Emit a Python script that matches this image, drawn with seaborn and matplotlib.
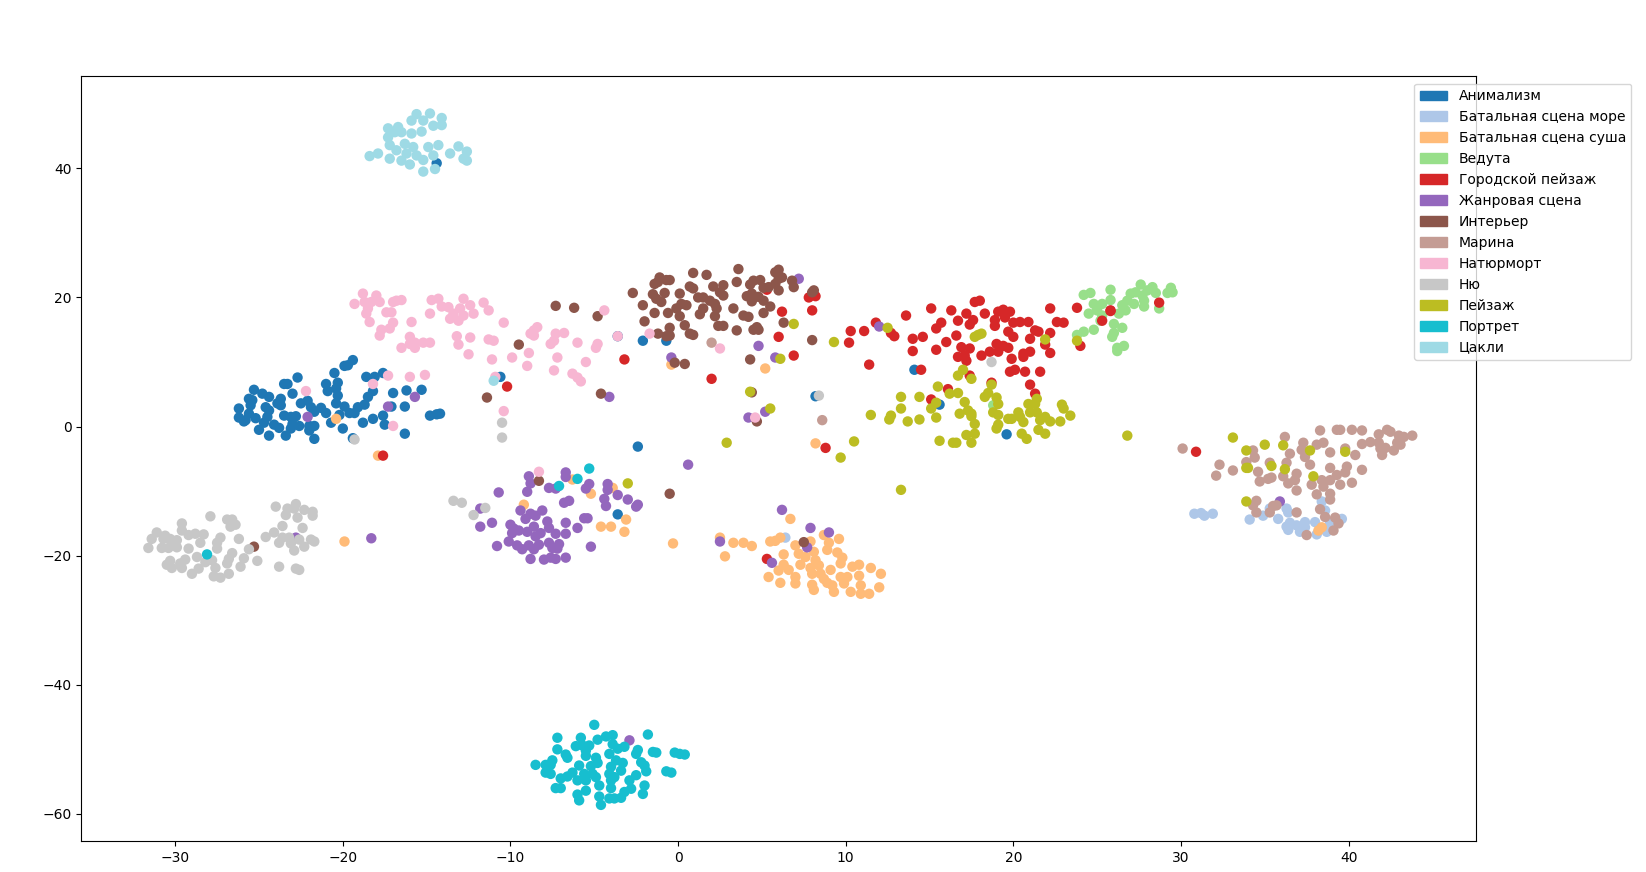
import pandas as pd
import seaborn as sns
import matplotlib.pyplot as plt
from matplotlib.patches import Patch

labels = ['Анимализм', 'Батальная сцена море', 'Батальная сцена суша', 'Ведута', 'Городской пейзаж',
          'Жанровая сцена', 'Интерьер', 'Марина', 'Натюрморт', 'Ню', 'Пейзаж', 'Портрет', 'Цакли']
colors = ['#1f77b4', '#aec7e8', '#ffbb78', '#98df8a', '#d62728', '#9467bd', '#8c564b',
          '#c49c94', '#f7b6d2', '#c7c7c7', '#bcbd22', '#17becf', '#9edae5']

animalism = [(-25.3,5.7),(-24.8,5.1),(-24.4,4.6),(-25.6,4.3),(-25.4,4.1),(-25.5,3.3),(-26.2,2.8),(-23.7,4.3),(-23.9,3.6),
    (-23.7,3.3),(-23.0,5.1),(-22.7,7.6),(-23.5,6.6),(-23.3,6.6),(-22.5,3.6),(-22.1,4.0),(-21.9,3.0),(-21.7,2.3),(-21.3,2.9),
    (-21.0,2.1),(-24.6,3.0),(-24.4,2.5),(-24.5,1.5),(-24.7,0.6),(-25.2,1.3),(-26.2,1.4),(-25.9,0.8),(-25.8,1.0),(-25.6,2.0),
    (-25.0,-0.5),(-24.4,-1.4),(-24.1,0.3),(-23.8,-0.2),(-23.5,1.7),(-23.1,1.5),(-22.8,1.6),(-22.6,0.1),(-23.1,-0.3),(-23.4,-1.4),
    (-23.0,0.4),(-22.0,0.1),(-21.7,0.1),(-22.0,-0.6),(-21.7,-1.9),(-20.5,8.3),(-19.9,9.4),(-19.7,9.5),(-19.4,10.3),(-21.0,6.6),
    (-20.3,6.8),(-20.9,5.5),(-20.4,5.9),(-20.3,4.8),(-20.4,3.6),(-19.9,3.1),(-19.6,2.1),(-19.3,2.1),(-19.1,3.0),(-18.7,3.4),
    (-18.5,4.6),(-18.2,5.5),(-18.6,7.7),(-18.1,7.7),(-17.6,8.3),(-17.0,5.2),(-16.2,5.6),(-15.3,5.7),(-16.3,3.1),(-17.1,3.1),
    (-17.6,1.7),(-17.5,0.3),(-18.2,1.2),(-18.8,0.6),(-20.0,-0.3),(-20.7,0.6),(-20.2,1.8),(-16.3,-1.1),(-14.8,1.7),(-14.4,1.9),
    (-14.2,2.0),(-19.4,-1.8),(-3.6,14.0),(-2.1,13.3),(-0.7,13.3),(-10.6,7.7),(-2.4,-3.1),(-3.6,-13.6),(14.1,8.8),(8.2,4.7),
    (15.6,3.4),(19.6,-1.2),(-14.4,40.8)]

battle_sea = [(30.8,-13.5),(31.2,-13.4),(31.4,-13.8),(31.9,-13.5),(34.1,-14.4),(34.9,-13.8),(35.3,-12.7),(35.8,-14.3),(36.3,-12.7),
    (36.4,-13.3),(36.5,-14.9),(36.3,-15.5),(36.4,-16.0),(36.9,-15.3),(37.1,-16.3),(37.4,-14.8),(37.4,-15.6),(38.0,-14.8),(38.1,-16.7),
    (38.4,-11.6),(38.6,-13.0),(38.7,-16.3),(39.6,-14.3),(38.9,-15.0),(6.4,-17.2)]

battle_land = [(6.7,-14.3),(8.7,-16.8),(9.0,-18.0),(9.6,-17.4),(8.9,-19.1),(9.5,-19.5),(9.8,-20.3),(9.7,-21.2),(5.5,-17.8),(5.8,-17.7),
    (6.1,-17.2),(7.0,-18.4),(7.2,-19.7),(7.9,-17.8),(8.1,-19.4),(6.3,-19.8),(7.6,-20.2),(8.2,-20.7),(8.4,-21.5),(7.3,-21.4),(6.3,-21.4),
    (6.0,-22.3),(6.6,-22.2),(5.4,-23.3),(6.1,-24.2),(7.0,-23.3),(7.0,-24.3),(7.9,-21.9),(8.0,-22.8),(8.0,-24.5),(8.1,-25.3),(8.5,-22.8),
    (9.1,-22.2),(8.7,-23.6),(8.9,-24.2),(9.2,-24.6),(9.3,-25.6),(9.7,-23.3),(9.9,-24.3),(10.1,-23.3),(10.3,-25.6),(10.4,-21.7),(10.8,-21.4),
    (10.8,-23.1),(10.9,-24.6),(10.9,-25.9),(11.4,-25.9),(11.5,-21.9),(12.1,-22.8),(12.0,-24.9),(2.5,-17.2),(3.3,-18.0),(3.9,-18.0),
    (4.4,-18.5),(2.8,-20.1),(-0.3,-18.1),(-3.1,-14.4),(-3.2,-16.3),(-4.0,-15.5),(-4.6,-15.5),(-5.2,-10.4),(-3.9,-9.5),(-6.3,-8.2),
    (-9.2,-12.1),(-17.9,-4.5),(-20.4,1.2),(-19.9,-17.8),(5.2,9.0),(8.2,-2.6),(-0.4,9.6),(38.4,-15.6),(38.2,-16.1)]

veduta = [(24.2,20.4),(24.6,20.7),(25.8,21.2),(24.8,19.0),(25.3,19.0),(25.8,19.6),(24.5,17.5),(25.0,18.0),(25.3,17.2),(26.3,17.5),
    (26.5,18.8),(26.8,19.5),(26.7,18.0),(27.0,20.6),(27.2,19.0),(27.3,20.8),(27.6,22.0),(27.7,20.3),(27.8,18.6),(28.0,21.1),(28.3,21.6),
    (28.5,20.7),(27.8,19.5),(28.7,18.3),(29.2,20.7),(29.4,21.5),(29.5,20.8),(26.0,15.9),(26.5,15.3),(26.0,14.5),(25.9,13.9),(24.8,15.0),
    (24.2,14.7),(23.8,14.2),(25.2,16.4),(26.6,12.5),(26.2,12.2),(26.2,11.7),(18.8,3.3)]

cityscape = [(6.2,17.8),(8.0,18.0),(7.8,20.0),(8.2,20.2),(6.0,13.9),(6.9,11.0),(2.0,7.4),(-3.2,10.4),(11.4,9.6),(10.3,14.8),(11.1,14.8),
    (10.2,13.0),(11.8,16.1),(12.7,14.5),(12.9,14.0),(13.6,17.2),(14.0,13.6),(14.6,13.9),(14.0,11.7),(15.4,11.9),(15.1,18.3),(16.3,18.0),
    (15.7,16.1),(15.4,15.2),(16.0,13.1),(16.6,14.1),(16.7,16.4),(17.2,17.5),(17.6,16.5),(17.4,15.8),(17.7,19.3),(18.0,19.5),(18.3,17.5),
    (19.1,17.8),(19.4,18.1),(19.8,17.8),(19.5,16.9),(18.9,16.5),(18.9,15.6),(20.0,16.1),(20.4,16.2),(20.9,16.2),(22.2,18.3),(23.8,18.4),
    (22.6,16.2),(23.0,16.1),(19.7,14.7),(20.0,13.9),(21.3,14.9),(21.5,14.7),(21.0,13.6),(22.2,14.5),(21.9,12.7),(22.2,11.4),(21.0,11.6),
    (20.6,11.3),(20.6,10.8),(19.9,10.5),(19.7,12.2),(19.4,12.5),(19.0,12.8),(19.1,11.6),(18.6,11.6),(18.1,11.0),(17.4,12.1),(16.9,12.3),
    (16.7,10.8),(17.1,11.0),(17.2,10.2),(14.5,8.8),(17.4,7.9),(16.1,5.8),(15.1,4.2),(18.7,6.8),(19.8,8.5),(20.1,8.8),(20.7,8.5),(21.6,8.5),
    (21.0,6.5),(21.3,5.1),(24.0,12.5),(25.3,16.4),(25.8,17.9),(8.8,-3.3),(5.3,21.2),(-10.2,6.2),(-17.6,-4.5),(28.7,19.2),(25.8,18.0),
    (30.9,-3.9),(5.3,-20.5)]

genre = [(-10.7,-10.2),(-11.8,-12.7),(-11.8,-15.5),(-11.1,-14.9),(-10.8,-18.5),(-10.1,-17.8),(-10.0,-15.2),(-9.8,-15.8),(-9.9,-16.5),
    (-9.5,-16.1),(-9.4,-13.0),(-9.1,-14.3),(-8.8,-13.5),(-8.5,-13.8),(-8.1,-13.0),(-8.6,-15.5),(-9.0,-16.3),(-8.5,-17.0),(-8.2,-16.5),
    (-7.8,-14.7),(-7.7,-15.7),(-7.3,-16.6),(-6.7,-14.9),(-6.7,-16.6),(-6.0,-15.7),(-5.6,-14.2),(-5.4,-14.2),(-5.2,-18.6),(-9.6,-18.4),
    (-9.3,-19.0),(-8.9,-18.4),(-8.6,-19.0),(-8.3,-18.3),(-8.8,-20.5),(-8.0,-20.6),(-7.6,-20.3),(-7.3,-20.5),(-6.7,-20.3),(-7.7,-18.0),
    (-7.5,-18.8),(-7.2,-18.9),(-7.1,-18.2),(-8.9,-7.7),(-8.8,-8.8),(-9.0,-10.1),(-7.7,-9.5),(-7.3,-9.6),(-6.7,-7.1),(-6.7,-7.8),
    (-6.8,-11.8),(-6.5,-11.5),(-5.5,-9.6),(-5.3,-8.9),(-4.2,-8.9),(-4.2,-9.8),(-3.6,-10.6),(-4.4,-11.2),(-4.3,-12.3),(-3.0,-11.3),
    (-2.5,-12.4),(-2.4,-12.1),(0.6,-5.9),(2.5,-17.8),(6.2,-12.9),(7.9,-15.7),(9.0,-16.4),(7.7,-18.7),(5.6,-21.1),(-15.7,4.6),(-17.3,3.1),
    (-22.1,1.5),(-4.1,4.6),(-0.4,10.7),(7.2,22.9),(4.8,12.5),(5.8,10.7),(12.0,15.5),(4.2,1.4),(5.2,2.3),(-18.3,-17.3),(-22.8,-17.2),
    (35.9,-11.6),(-2.9,-48.6)]

interior = [(-2.7,20.7),(-2.1,18.8),(-2.0,16.3),(-1.4,17.6),(-1.5,20.5),(-1.3,19.8),(-1.0,19.3),(-0.8,20.7),(-1.4,22.1),(-1.2,22.4),
    (-1.1,23.1),(-0.7,22.7),(-0.5,22.7),(-0.6,17.6),(-0.1,18.3),(0.1,17.1),(0.2,19.0),(0.1,20.6),(0.5,18.8),(0.7,21.7),(0.9,21.4),(0.9,23.8),
    (1.7,23.5),(1.2,20.0),(1.5,20.0),(1.9,19.5),(2.2,19.0),(2.3,18.3),(1.5,18.3),(1.3,17.4),(2.2,17.1),(2.1,21.7),(2.7,21.9),(2.5,20.8),
    (2.7,20.3),(3.6,24.4),(3.5,22.4),(4.3,22.0),(4.5,22.6),(4.9,22.7),(5.1,21.5),(5.4,21.6),(5.8,23.9),(6.0,24.3),(6.0,22.9),(6.2,23.1),
    (5.8,22.1),(6.0,21.1),(6.8,22.6),(6.9,21.6),(4.1,20.2),(4.4,20.6),(4.4,19.4),(4.8,20.1),(5.1,19.5),(3.3,18.3),(3.9,17.2),(4.2,17.0),
    (5.5,18.6),(5.1,17.6),(4.7,15.4),(4.5,15.0),(4.8,15.0),(2.4,15.6),(2.7,15.6),(3.5,14.9),(0.4,15.7),(0.7,14.4),(0.9,14.2),(-0.5,15.3),
    (-0.5,14.1),(-0.7,14.0),(-1.2,14.4),(6.3,16.1),(8.0,13.4),(8.0,20.8),(8.1,21.1),(4.3,10.4),(-0.2,9.9),(0.4,9.7),(4.4,5.3),(-7.3,18.7),
    (-6.2,18.4),(-4.8,17.1),(-9.5,12.7),(-11.4,4.5),(-4.6,5.1),(-8.3,-8.4),(-0.5,-10.4),(7.5,-17.9),(-25.3,-18.6),(4.7,0.8)]

marina = [(30.1,-3.4),(32.3,-5.9),(33.1,-6.8),(32.1,-7.6),(34.3,-3.7),(34.4,-4.8),(33.9,-5.5),(34.6,-7.0),(34.7,-8.5),(35.2,-8.1),(35.4,-7.9),
    (35.3,-5.6),(36.3,-5.6),(36.5,-4.2),(36.2,-1.6),(37.3,-2.5),(37.2,-3.6),(37.4,-4.7),(37.7,-5.9),(38.1,-2.8),(38.5,-2.5),(38.3,-0.6),
    (39.3,-0.5),(39.5,-0.5),(40.2,-0.5),(40.8,-0.6),(40.8,-2.7),(39.8,-3.4),(40.4,-4.4),(38.9,-4.0),(38.9,-6.4),(39.9,-6.2),(39.8,-7.1),
    (39.3,-7.5),(40.8,-6.7),(40.2,-8.7),(39.5,-9.0),(38.9,-8.3),(38.4,-8.3),(37.8,-9.0),(38.5,-9.3),(36.9,-7.3),(36.8,-8.3),(36.4,-8.8),
    (36.1,-7.7),(36.9,-9.9),(38.1,-10.5),(38.9,-10.4),(38.9,-11.3),(34.5,-11.5),(34.3,-12.2),(34.5,-13.3),(35.5,-12.3),(35.7,-12.2),
    (35.3,-13.3),(36.9,-13.3),(38.3,-12.8),(38.6,-14.0),(39.2,-14.1),(39.4,-15.0),(39.1,-16.1),(37.5,-16.8),(41.3,-2.4),(41.8,-1.2),
    (41.8,-2.5),(41.9,-3.4),(42.2,-3.3),(42.0,-4.4),(42.3,-0.5),(42.5,-0.8),(43.0,-1.4),(43.3,-1.6),(43.8,-1.4),(42.9,-2.5),(43.1,-2.8),
    (42.7,-3.7),(2.0,13.0),(8.6,1.0)]

still_life = [(-18.8,20.6),(-19.3,19.0),(-18.7,19.3),(-18.3,19.3),(-18.0,20.3),(-17.8,19.3),(-18.5,18.3),(-18.6,17.5),(-18.4,16.2),(-17.4,17.7),
    (-17.0,19.3),(-16.8,19.5),(-16.5,19.6),(-17.1,17.7),(-17.0,16.1),(-17.2,15.2),(-17.7,15.0),(-17.8,14.1),(-16.0,13.9),(-16.5,12.2),
    (-16.0,12.8),(-15.7,12.2),(-15.7,13.0),(-15.2,13.0),(-14.8,13.0),(-15.9,16.2),(-14.8,17.5),(-14.7,19.6),(-14.3,19.8),(-14.1,18.6),
    (-13.7,18.5),(-13.4,17.5),(-13.6,16.7),(-13.1,16.4),(-13.0,18.3),(-12.8,19.8),(-12.4,18.8),(-12.8,17.2),(-12.2,17.5),(-11.6,19.2),
    (-11.3,18.0),(-10.4,16.1),(-13.2,14.0),(-13.1,12.7),(-12.4,13.8),(-11.3,13.5),(-11.0,13.3),(-12.5,11.2),(-11.1,10.4),(-9.9,10.7),
    (-8.9,11.4),(-9.0,9.4),(-8.6,14.1),(-8.8,14.4),(-8.6,14.9),(-8.4,15.4),(-7.6,12.8),(-7.4,13.3),(-7.3,14.4),(-6.8,14.5),(-6.0,13.0),
    (-4.8,12.8),(-4.9,12.2),(-4.4,18.0),(-7.2,10.7),(-5.5,10.0),(-7.4,8.7),(-6.3,8.2),(-6.0,7.6),(-5.8,7.0),(-3.6,14.0),(-1.7,14.4),
    (-17.3,7.9),(-16.0,7.7),(-15.1,8.0),(-18.2,6.6),(-22.2,5.5),(-17.0,0.1),(-10.4,2.4),(-10.9,7.7),(2.5,12.1),(4.6,1.4),(-8.3,-7.0)]

nude = [(-31.6,-18.8),(-31.4,-17.4),(-31.1,-16.4),(-30.8,-18.8),(-30.7,-17.4),(-30.6,-16.9),(-30.4,-18.8),(-30.3,-17.4),(-30.2,-17.9),
    (-29.9,-17.6),(-29.9,-18.7),(-29.6,-15.0),(-29.6,-16.1),(-29.2,-16.8),(-28.8,-16.6),(-28.3,-16.7),(-28.5,-18.0),(-29.2,-18.9),(-27.9,-13.9),
    (-26.9,-14.4),(-26.6,-14.4),(-26.4,-15.2),(-26.7,-15.5),(-27.3,-17.2),(-27.5,-18.0),(-27.5,-18.9),(-26.2,-17.4),(-25.6,-19.0),(-26.6,-19.6),
    (-26.8,-20.5),(-26.9,-21.2),(-25.9,-20.4),(-26.1,-21.7),(-25.1,-20.8),(-30.3,-20.8),(-30.5,-21.4),(-30.2,-21.9),(-29.7,-21.2),(-29.4,-20.6),
    (-29.6,-21.9),(-29.0,-22.8),(-28.6,-22.0),(-28.7,-20.2),(-28.2,-21.0),(-27.8,-20.7),(-27.6,-21.9),(-27.7,-23.2),(-27.3,-23.4),(-26.8,-22.8),
    (-23.8,-21.7),(-22.8,-22.0),(-22.6,-22.2),(-24.6,-17.1),(-24.1,-16.4),(-23.8,-18.0),(-23.6,-17.2),(-23.2,-17.2),(-23.1,-18.1),(-22.6,-17.5),
    (-22.9,-19.2),(-22.3,-18.6),(-21.9,-17.5),(-21.7,-17.8),(-22.4,-15.7),(-23.6,-15.4),(-24.0,-12.4),(-23.4,-13.7),(-23.3,-12.7),(-22.8,-12.0),
    (-22.9,-12.7),(-22.7,-14.1),(-22.3,-12.9),(-21.8,-13.2),(-21.8,-13.8),(-13.4,-11.5),(-12.9,-11.8),(-12.2,-13.7),(-11.5,-12.6),(-10.5,0.6),
    (-10.5,-1.7),(-19.3,-2.0),(18.7,10.0),(8.4,4.8)]

landscape = [(6.9,15.9),(9.3,13.1),(12.5,15.3),(17.7,13.9),(17.9,14.2),(18.1,14.4),(6.1,10.5),(4.3,5.4),(5.5,2.8),(2.9,-2.5),(10.5,-2.3),(9.7,-4.8),
    (21.9,13.5),(23.8,13.3),(17.0,8.8),(16.7,7.9),(17.5,7.4),(15.5,6.2),(13.3,4.6),(14.4,4.6),(16.2,5.1),(16.7,5.2),(18.7,6.5),(18.5,5.2),(18.3,4.6),
    (19.0,4.5),(19.1,3.5),(17.1,3.8),(15.4,3.7),(15.1,2.8),(13.3,2.8),(11.5,1.8),(12.7,1.7),(12.6,1.1),(13.7,0.8),(14.4,1.1),(15.4,1.4),(16.8,2.0),
    (17.3,2.5),(17.5,2.0),(17.5,1.6),(17.7,0.4),(18.8,2.2),(19.1,1.8),(19.1,0.3),(19.0,-0.3),(19.7,1.2),(19.9,1.2),(20.3,2.2),(20.4,1.5),(20.6,0.7),
    (20.9,3.5),(21.4,4.3),(21.3,3.5),(21.0,2.2),(21.4,2.2),(21.9,1.5),(21.6,1.0),(22.2,0.8),(22.8,0.8),(21.5,-0.5),(21.9,-1.1),(20.5,-1.1),(20.8,-1.9),
    (17.2,-1.3),(17.7,-1.1),(17.5,-2.5),(15.6,-2.2),(16.4,-2.5),(16.6,-2.5),(22.9,3.4),(23.0,2.8),(23.4,1.7),(26.8,-1.4),(-3.0,-8.8),(13.3,-9.8),
    (33.1,-1.7),(33.9,-3.7),(35.0,-2.8),(36.1,-2.9),(37.7,-3.7),(39.8,-3.9),(33.9,-6.4),(34.0,-6.4),(35.4,-6.1),(36.2,-6.6),(37.9,-7.7),(33.9,-11.6)]

portrait = [(-5.0,-46.2),(-7.2,-48.2),(-5.8,-48.2),(-1.8,-47.7),(-3.9,-47.8),(-4.3,-48.0),(-4.8,-48.5),(-6.1,-49.5),(-5.7,-49.4),(-5.3,-49.4),
    (-5.5,-50.2),(-5.5,-51.0),(-7.2,-50.0),(-6.7,-50.8),(-6.6,-51.3),(-3.9,-49.2),(-3.2,-49.6),(-3.6,-49.9),(-4.1,-50.7),(-2.4,-50.1),(-2.5,-50.7),
    (-1.5,-50.4),(-1.3,-50.5),(-0.2,-50.5),(0.1,-50.7),(0.4,-50.8),(-0.7,-53.4),(-0.4,-53.6),(-8.5,-52.4),(-7.9,-52.4),(-7.5,-51.7),(-7.6,-52.4),
    (-7.9,-53.6),(-7.6,-53.8),(-7.0,-54.5),(-6.6,-54.2),(-6.3,-53.6),(-5.9,-52.5),(-4.9,-51.3),(-4.8,-52.1),(-5.2,-52.6),(-5.6,-53.8),(-5.1,-53.8),
    (-6.0,-54.8),(-5.5,-54.8),(-4.9,-54.3),(-4.7,-55.6),(-7.3,-56.0),(-7.0,-56.0),(-5.5,-56.4),(-6.0,-57.0),(-5.9,-57.9),(-4.7,-57.3),(-4.6,-58.6),
    (-4.1,-57.6),(-3.8,-57.6),(-3.4,-57.5),(-3.2,-56.6),(-2.8,-56.1),(-2.9,-54.8),(-2.5,-54.0),(-2.1,-56.9),(-2.0,-55.6),(-4.0,-56.0),(-4.0,-54.8),
    (-4.1,-53.8),(-4.0,-52.7),(-3.7,-51.7),(-3.4,-53.3),(-3.3,-52.1),(-2.2,-52.0),(-2.0,-52.5),(-1.9,-53.4),(-3.8,-54.3),(-5.3,-6.5),(-7.1,-9.2),
    (-6.0,-8.1),(-28.1,-19.8)]

tsakli = [(-18.4,41.9),(-17.9,42.3),(-17.2,41.5),(-17.2,43.6),(-17.3,44.8),(-17.3,46.2),(-16.7,46.4),(-16.5,45.6),(-16.8,42.8),(-16.5,41.2),
    (-16.3,43.8),(-16.2,42.3),(-16.0,40.6),(-15.9,47.4),(-15.6,48.4),(-15.2,47.4),(-14.8,48.5),(-15.3,45.7),(-15.9,45.4),(-14.6,46.6),(-14.1,47.8),
    (-14.1,46.7),(-15.8,43.3),(-15.6,42.0),(-15.2,41.3),(-15.2,39.5),(-14.9,43.3),(-14.6,42.0),(-14.3,43.6),(-14.5,39.9),(-13.6,42.3),(-13.1,43.4),
    (-12.6,42.6),(-12.8,41.5),(-12.6,41.2),(-16.9,45.6),(-11.0,7.1)]

points = [animalism, battle_sea, battle_land, veduta, cityscape, genre, interior,
          marina, still_life, nude, landscape, portrait, tsakli]

frames = [pd.DataFrame(p, columns=['x', 'y']).assign(genre=name) for p, name in zip(points, labels)]
df = pd.concat(frames, ignore_index=True)

fig = plt.figure(figsize=(16.46, 8.72), dpi=100)
ax = fig.add_axes([0.0494, 0.0355, 0.8473, 0.8773])

# edge off, bigger s: the markers in the reference are about 10 px across
sns.scatterplot(df, x='x', y='y', hue='genre', hue_order=labels, palette=colors, s=56,
                linewidth=0, legend=False, ax=ax)

ax.set(xlabel='', ylabel='', xlim=(-35.6, 47.6), ylim=(-64.2, 54.3))

handles = [Patch(color=c, label=l) for c, l in zip(colors, labels)]
ax.legend(handles=handles, loc='upper right', bbox_to_anchor=(1.1115, 0.99), borderaxespad=0)

plt.savefig('out.png', dpi=100)
